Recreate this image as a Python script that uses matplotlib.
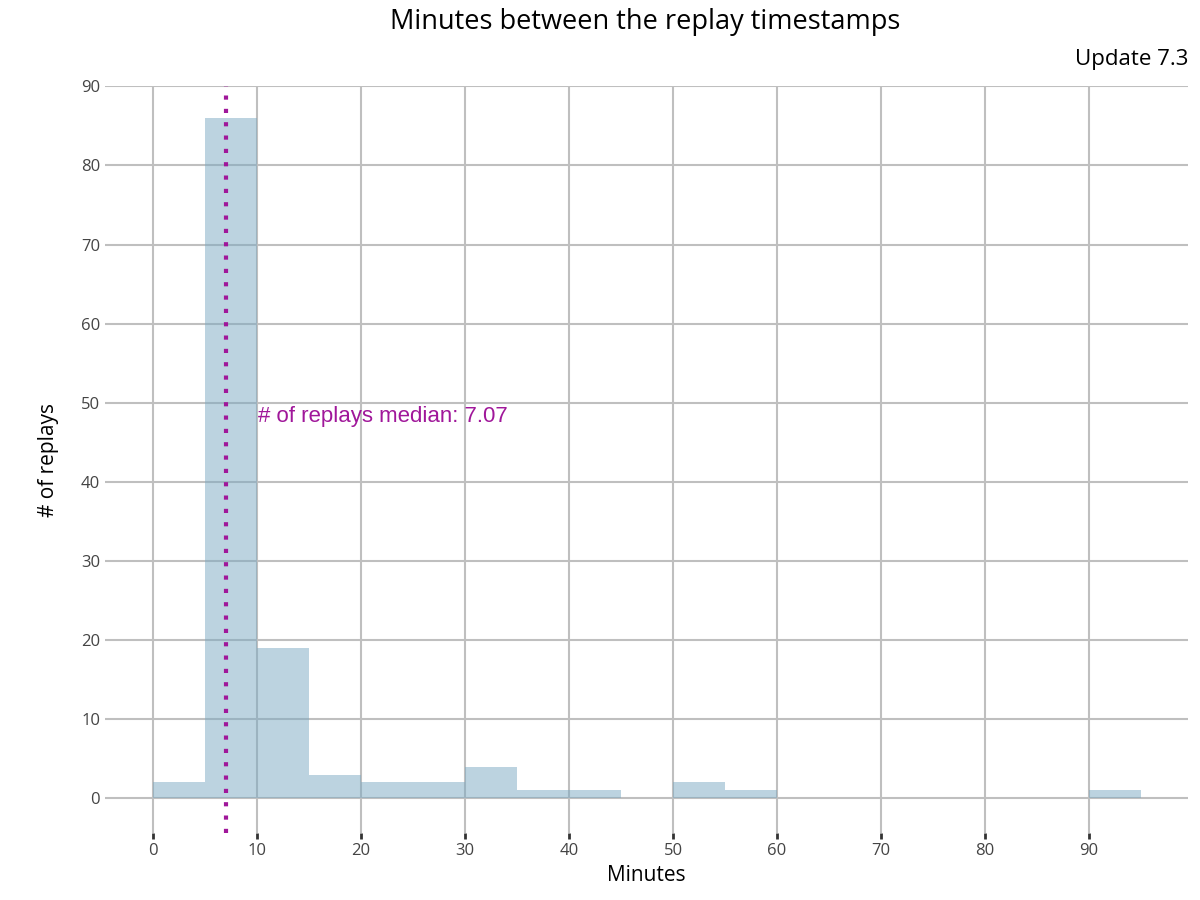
import matplotlib
matplotlib.use("Agg")
import matplotlib.pyplot as plt
import numpy as np

bin_edges = list(range(0, 100, 5))
counts = [2, 86, 19, 3, 2, 2, 4, 1, 1, 0, 2, 1, 0, 0, 0, 0, 0, 0, 1]
median = 7.07
xticks = [0, 10, 20, 30, 40, 50, 60, 70, 80, 90]
yticks = [0, 10, 20, 30, 40, 50, 60, 70, 80, 90]

plt.rcParams['font.family'] = ['Open Sans', 'DejaVu Sans']
fig = plt.figure(figsize=(12, 9), dpi=100)
ax = fig.add_axes([0.0875, 0.0744, 0.9025, 0.8296])
ax.bar(bin_edges[:-1], counts, width=5, align='edge', color='#7aa9c2', alpha=0.5, zorder=2)
ax.axvline(median, color='#a0179a', linestyle=(0, (1, 2.2)), linewidth=3, zorder=3)
ax.text(10.1, 48.3, f"# of replays median: {median}", color='#a0179a', fontsize=16,
        family=['Liberation Sans', 'DejaVu Sans'], va='center', ha='left', zorder=4)
ax.set_xlim(-4.6, 99.5)
ax.set_ylim(-4.4, 90)
ax.set_xticks(xticks)
ax.set_yticks(yticks)
ax.grid(True, color='#bfbfbf', linewidth=1.5, zorder=0)
ax.set_axisbelow(True)
for s in ax.spines.values():
    s.set_visible(False)
ax.tick_params(axis='x', length=4, width=2, color='#333333', labelsize=12, labelcolor='#444444')
ax.tick_params(axis='y', length=0, labelsize=12, labelcolor='#444444')
ax.set_xlabel("Minutes", fontsize=15)
ax.set_ylabel("# of replays", fontsize=15, labelpad=16)
fig.text(0.538, 0.975, "Minutes between the replay timestamps", ha='center', va='center', fontsize=19.5)
fig.text(0.99, 0.934, "Update 7.3", ha='right', va='center', fontsize=16)
fig.savefig("out.png")
